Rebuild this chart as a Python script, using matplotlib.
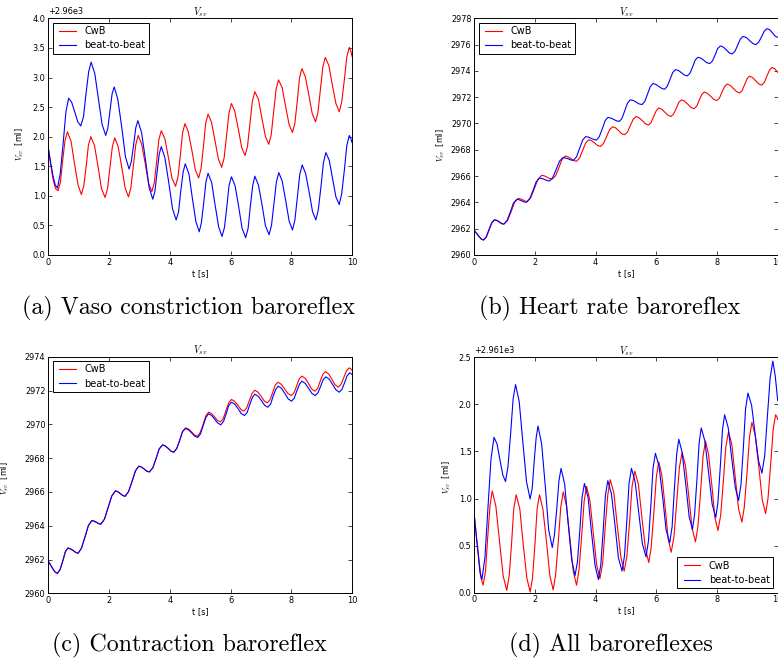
import matplotlib
matplotlib.use("Agg")
import matplotlib.pyplot as plt
from matplotlib.ticker import MultipleLocator, ScalarFormatter

plt.rcParams["font.family"] = "DejaVu Sans"
plt.rcParams["mathtext.fontset"] = "cm"

# V_sv over time, (t [s], value) pairs.
# (a) and (d) are stored relative to their axis offset (2960 and 2961 ml).
vaso_cwb = [
    (0.00, 1.81), (0.08, 1.52), (0.16, 1.27), (0.24, 1.12),
    (0.32, 1.085), (0.40, 1.23), (0.47, 1.58), (0.55, 1.93),
    (0.63, 2.08), (0.75, 1.92), (0.86, 1.55), (0.98, 1.18),
    (1.09, 1.02), (1.17, 1.17), (1.25, 1.51), (1.32, 1.85),
    (1.40, 2.00), (1.52, 1.85), (1.64, 1.49), (1.75, 1.12),
    (1.87, 0.97), (1.95, 1.12), (2.03, 1.48), (2.11, 1.83),
    (2.19, 1.98), (2.30, 1.83), (2.42, 1.48), (2.53, 1.13),
    (2.64, 0.98), (2.72, 1.14), (2.80, 1.50), (2.88, 1.86),
    (2.96, 2.02), (3.07, 1.88), (3.19, 1.55), (3.30, 1.21),
    (3.41, 1.07), (3.49, 1.22), (3.57, 1.59), (3.64, 1.95),
    (3.72, 2.10), (3.84, 1.96), (3.96, 1.63), (4.07, 1.30),
    (4.19, 1.16), (4.27, 1.32), (4.35, 1.69), (4.42, 2.06),
    (4.50, 2.22), (4.61, 2.08), (4.73, 1.76), (4.84, 1.44),
    (4.95, 1.30), (5.03, 1.46), (5.11, 1.84), (5.18, 2.22),
    (5.26, 2.38), (5.37, 2.25), (5.49, 1.93), (5.60, 1.62),
    (5.71, 1.48), (5.79, 1.64), (5.87, 2.02), (5.95, 2.40),
    (6.03, 2.56), (6.14, 2.43), (6.26, 2.12), (6.37, 1.81),
    (6.48, 1.68), (6.56, 1.84), (6.64, 2.22), (6.72, 2.60),
    (6.80, 2.76), (6.92, 2.63), (7.03, 2.32), (7.15, 2.00),
    (7.26, 1.87), (7.34, 2.03), (7.42, 2.42), (7.50, 2.80),
    (7.58, 2.96), (7.70, 2.83), (7.81, 2.52), (7.93, 2.20),
    (8.04, 2.07), (8.12, 2.23), (8.20, 2.61), (8.27, 2.99),
    (8.35, 3.15), (8.46, 3.02), (8.58, 2.70), (8.69, 2.39),
    (8.80, 2.25), (8.88, 2.41), (8.96, 2.80), (9.04, 3.18),
    (9.12, 3.34), (9.24, 3.20), (9.35, 2.88), (9.47, 2.56),
    (9.58, 2.42), (9.66, 2.58), (9.75, 2.97), (9.83, 3.35),
    (9.91, 3.51), (9.96, 3.45), (10.00, 3.36),
]
vaso_b2b = [
    (0.00, 1.81), (0.08, 1.55), (0.16, 1.32), (0.23, 1.18),
    (0.30, 1.13), (0.39, 1.36), (0.49, 1.89), (0.58, 2.42),
    (0.67, 2.65), (0.77, 2.58), (0.87, 2.42), (0.97, 2.25),
    (1.07, 2.18), (1.16, 2.34), (1.24, 2.72), (1.33, 3.10),
    (1.41, 3.26), (1.53, 3.07), (1.65, 2.64), (1.77, 2.21),
    (1.89, 2.02), (1.96, 2.14), (2.03, 2.43), (2.10, 2.72),
    (2.17, 2.84), (2.29, 2.63), (2.42, 2.15), (2.54, 1.66),
    (2.66, 1.45), (2.73, 1.57), (2.81, 1.86), (2.88, 2.15),
    (2.95, 2.27), (3.07, 2.07), (3.20, 1.61), (3.32, 1.14),
    (3.44, 0.94), (3.51, 1.07), (3.58, 1.39), (3.65, 1.70),
    (3.72, 1.83), (3.84, 1.64), (3.97, 1.21), (4.09, 0.78),
    (4.21, 0.59), (4.29, 0.73), (4.36, 1.07), (4.44, 1.40),
    (4.51, 1.54), (4.63, 1.37), (4.74, 0.97), (4.86, 0.56),
    (4.97, 0.39), (5.04, 0.54), (5.12, 0.89), (5.19, 1.23),
    (5.26, 1.38), (5.38, 1.22), (5.49, 0.85), (5.61, 0.47),
    (5.72, 0.31), (5.80, 0.46), (5.88, 0.82), (5.95, 1.17),
    (6.03, 1.32), (6.15, 1.17), (6.27, 0.81), (6.38, 0.45),
    (6.50, 0.29), (6.58, 0.45), (6.65, 0.81), (6.73, 1.17),
    (6.80, 1.33), (6.92, 1.18), (7.04, 0.84), (7.15, 0.49),
    (7.27, 0.34), (7.35, 0.50), (7.43, 0.87), (7.51, 1.23),
    (7.59, 1.39), (7.70, 1.25), (7.82, 0.91), (7.93, 0.57),
    (8.04, 0.42), (8.12, 0.59), (8.20, 0.97), (8.28, 1.36),
    (8.36, 1.52), (8.47, 1.38), (8.59, 1.06), (8.70, 0.73),
    (8.81, 0.59), (8.89, 0.76), (8.98, 1.16), (9.06, 1.56),
    (9.14, 1.73), (9.25, 1.60), (9.36, 1.29), (9.47, 0.98),
    (9.58, 0.85), (9.66, 1.03), (9.75, 1.44), (9.83, 1.85),
    (9.91, 2.02), (9.96, 1.97), (10.00, 1.90),
]

hr_cwb = [
    (0.00, 2961.85), (0.08, 2961.62), (0.16, 2961.38), (0.24, 2961.18),
    (0.31, 2961.12), (0.40, 2961.35), (0.49, 2961.90), (0.58, 2962.44),
    (0.67, 2962.67), (0.75, 2962.62), (0.83, 2962.51), (0.90, 2962.39),
    (0.98, 2962.34), (1.10, 2962.63), (1.22, 2963.32), (1.33, 2964.01),
    (1.45, 2964.30), (1.52, 2964.26), (1.60, 2964.18), (1.67, 2964.09),
    (1.74, 2964.05), (1.86, 2964.35), (1.98, 2965.05), (2.10, 2965.75),
    (2.22, 2966.05), (2.31, 2966.01), (2.40, 2965.91), (2.48, 2965.80),
    (2.57, 2965.76), (2.68, 2966.02), (2.79, 2966.64), (2.89, 2967.26),
    (3.00, 2967.52), (3.09, 2967.46), (3.19, 2967.32), (3.28, 2967.18),
    (3.37, 2967.12), (3.47, 2967.37), (3.57, 2967.94), (3.67, 2968.51),
    (3.77, 2968.76), (3.87, 2968.68), (3.97, 2968.51), (4.06, 2968.33),
    (4.16, 2968.25), (4.26, 2968.48), (4.36, 2969.00), (4.46, 2969.53),
    (4.56, 2969.75), (4.66, 2969.66), (4.76, 2969.45), (4.85, 2969.23),
    (4.95, 2969.14), (5.05, 2969.35), (5.14, 2969.84), (5.24, 2970.32),
    (5.33, 2970.53), (5.43, 2970.43), (5.54, 2970.21), (5.64, 2969.98),
    (5.74, 2969.88), (5.83, 2970.08), (5.91, 2970.53), (6.00, 2970.98),
    (6.08, 2971.18), (6.18, 2971.08), (6.28, 2970.86), (6.38, 2970.63),
    (6.48, 2970.53), (6.57, 2970.72), (6.66, 2971.17), (6.74, 2971.61),
    (6.83, 2971.80), (6.93, 2971.70), (7.04, 2971.46), (7.14, 2971.22),
    (7.24, 2971.12), (7.33, 2971.31), (7.41, 2971.76), (7.50, 2972.21),
    (7.58, 2972.40), (7.68, 2972.30), (7.79, 2972.07), (7.89, 2971.84),
    (7.99, 2971.74), (8.08, 2971.93), (8.16, 2972.37), (8.25, 2972.81),
    (8.33, 2973.00), (8.44, 2972.90), (8.54, 2972.66), (8.65, 2972.42),
    (8.75, 2972.32), (8.83, 2972.51), (8.91, 2972.96), (8.99, 2973.41),
    (9.07, 2973.60), (9.17, 2973.50), (9.27, 2973.26), (9.37, 2973.02),
    (9.47, 2972.92), (9.56, 2973.12), (9.64, 2973.59), (9.73, 2974.06),
    (9.81, 2974.26), (9.90, 2974.17), (10.00, 2973.90),
]
hr_b2b = [
    (0.00, 2961.85), (0.08, 2961.62), (0.16, 2961.38), (0.23, 2961.20),
    (0.30, 2961.13), (0.39, 2961.36), (0.48, 2961.90), (0.57, 2962.43),
    (0.66, 2962.66), (0.74, 2962.61), (0.82, 2962.50), (0.89, 2962.38),
    (0.97, 2962.33), (1.08, 2962.61), (1.19, 2963.28), (1.29, 2963.94),
    (1.40, 2964.22), (1.48, 2964.19), (1.56, 2964.11), (1.64, 2964.03),
    (1.72, 2964.00), (1.83, 2964.28), (1.94, 2964.92), (2.04, 2965.56),
    (2.15, 2965.84), (2.23, 2965.81), (2.32, 2965.73), (2.40, 2965.65),
    (2.48, 2965.62), (2.59, 2965.89), (2.70, 2966.51), (2.81, 2967.13),
    (2.92, 2967.40), (3.01, 2967.37), (3.10, 2967.30), (3.18, 2967.22),
    (3.27, 2967.19), (3.37, 2967.46), (3.47, 2968.10), (3.57, 2968.73),
    (3.67, 2969.00), (3.76, 2968.96), (3.85, 2968.87), (3.94, 2968.78),
    (4.03, 2968.74), (4.12, 2969.00), (4.22, 2969.60), (4.31, 2970.20),
    (4.40, 2970.46), (4.50, 2970.41), (4.59, 2970.31), (4.69, 2970.20),
    (4.78, 2970.15), (4.87, 2970.40), (4.96, 2970.98), (5.05, 2971.55),
    (5.14, 2971.80), (5.24, 2971.75), (5.34, 2971.62), (5.43, 2971.49),
    (5.53, 2971.44), (5.62, 2971.68), (5.71, 2972.24), (5.80, 2972.80),
    (5.89, 2973.04), (5.99, 2972.97), (6.08, 2972.82), (6.18, 2972.67),
    (6.27, 2972.60), (6.36, 2972.83), (6.45, 2973.35), (6.54, 2973.88),
    (6.63, 2974.10), (6.73, 2974.03), (6.83, 2973.86), (6.92, 2973.69),
    (7.02, 2973.62), (7.11, 2973.83), (7.20, 2974.33), (7.28, 2974.83),
    (7.37, 2975.04), (7.47, 2974.97), (7.57, 2974.80), (7.66, 2974.63),
    (7.76, 2974.56), (7.85, 2974.76), (7.94, 2975.23), (8.02, 2975.70),
    (8.11, 2975.90), (8.21, 2975.81), (8.31, 2975.60), (8.40, 2975.38),
    (8.50, 2975.29), (8.59, 2975.49), (8.68, 2975.96), (8.77, 2976.43),
    (8.86, 2976.63), (8.97, 2976.54), (9.07, 2976.32), (9.18, 2976.09),
    (9.28, 2976.00), (9.37, 2976.18), (9.47, 2976.61), (9.56, 2977.04),
    (9.65, 2977.22), (9.74, 2977.13), (9.83, 2976.89), (9.91, 2976.66),
    (10.00, 2976.56),
]

contr_cwb = [
    (0.00, 2961.90), (0.08, 2961.66), (0.16, 2961.42), (0.23, 2961.25),
    (0.30, 2961.18), (0.39, 2961.41), (0.48, 2961.93), (0.56, 2962.46),
    (0.65, 2962.68), (0.73, 2962.63), (0.82, 2962.53), (0.90, 2962.42),
    (0.98, 2962.37), (1.09, 2962.66), (1.21, 2963.34), (1.32, 2964.01),
    (1.43, 2964.30), (1.51, 2964.27), (1.58, 2964.20), (1.66, 2964.12),
    (1.73, 2964.09), (1.85, 2964.39), (1.97, 2965.08), (2.09, 2965.76),
    (2.21, 2966.06), (2.29, 2966.01), (2.37, 2965.90), (2.45, 2965.79),
    (2.53, 2965.74), (2.64, 2966.01), (2.76, 2966.63), (2.87, 2967.25),
    (2.98, 2967.52), (3.07, 2967.47), (3.16, 2967.35), (3.24, 2967.23),
    (3.33, 2967.18), (3.44, 2967.42), (3.55, 2967.98), (3.65, 2968.54),
    (3.76, 2968.78), (3.85, 2968.72), (3.95, 2968.57), (4.04, 2968.41),
    (4.13, 2968.35), (4.23, 2968.57), (4.33, 2969.07), (4.42, 2969.57),
    (4.52, 2969.79), (4.62, 2969.72), (4.72, 2969.55), (4.81, 2969.37),
    (4.91, 2969.30), (5.00, 2969.51), (5.10, 2970.01), (5.19, 2970.51),
    (5.28, 2970.72), (5.38, 2970.63), (5.48, 2970.43), (5.57, 2970.23),
    (5.67, 2970.14), (5.76, 2970.34), (5.85, 2970.81), (5.94, 2971.27),
    (6.03, 2971.47), (6.13, 2971.37), (6.24, 2971.13), (6.34, 2970.88),
    (6.44, 2970.78), (6.53, 2970.97), (6.62, 2971.40), (6.71, 2971.83),
    (6.80, 2972.02), (6.90, 2971.91), (7.01, 2971.65), (7.11, 2971.38),
    (7.21, 2971.27), (7.30, 2971.45), (7.39, 2971.88), (7.47, 2972.31),
    (7.56, 2972.49), (7.67, 2972.37), (7.78, 2972.10), (7.89, 2971.82),
    (8.00, 2971.70), (8.09, 2971.87), (8.18, 2972.28), (8.26, 2972.68),
    (8.35, 2972.85), (8.46, 2972.72), (8.57, 2972.41), (8.67, 2972.09),
    (8.78, 2971.96), (8.87, 2972.13), (8.95, 2972.54), (9.04, 2972.95),
    (9.12, 2973.12), (9.23, 2972.98), (9.34, 2972.66), (9.44, 2972.34),
    (9.55, 2972.20), (9.64, 2972.37), (9.73, 2972.77), (9.82, 2973.17),
    (9.91, 2973.34), (9.96, 2973.28), (10.00, 2973.20),
]
contr_b2b = [
    (0.00, 2961.90), (0.08, 2961.66), (0.16, 2961.42), (0.23, 2961.25),
    (0.30, 2961.18), (0.39, 2961.41), (0.48, 2961.93), (0.56, 2962.46),
    (0.65, 2962.68), (0.73, 2962.63), (0.82, 2962.53), (0.90, 2962.42),
    (0.98, 2962.37), (1.09, 2962.66), (1.21, 2963.34), (1.32, 2964.01),
    (1.43, 2964.30), (1.51, 2964.27), (1.58, 2964.20), (1.66, 2964.12),
    (1.73, 2964.09), (1.85, 2964.39), (1.97, 2965.08), (2.09, 2965.76),
    (2.21, 2966.06), (2.29, 2966.01), (2.37, 2965.90), (2.45, 2965.79),
    (2.53, 2965.74), (2.64, 2966.01), (2.76, 2966.63), (2.87, 2967.25),
    (2.98, 2967.52), (3.07, 2967.47), (3.16, 2967.35), (3.24, 2967.23),
    (3.33, 2967.18), (3.44, 2967.42), (3.55, 2967.98), (3.65, 2968.54),
    (3.76, 2968.78), (3.85, 2968.72), (3.95, 2968.57), (4.04, 2968.41),
    (4.13, 2968.35), (4.23, 2968.57), (4.33, 2969.07), (4.42, 2969.57),
    (4.52, 2969.75), (4.62, 2969.67), (4.72, 2969.49), (4.82, 2969.30),
    (4.92, 2969.22), (5.01, 2969.43), (5.10, 2969.92), (5.19, 2970.41),
    (5.28, 2970.62), (5.38, 2970.52), (5.48, 2970.30), (5.58, 2970.07),
    (5.68, 2969.97), (5.77, 2970.17), (5.86, 2970.64), (5.94, 2971.11),
    (6.03, 2971.31), (6.14, 2971.19), (6.25, 2970.92), (6.35, 2970.64),
    (6.46, 2970.52), (6.55, 2970.71), (6.63, 2971.15), (6.72, 2971.59),
    (6.80, 2971.78), (6.91, 2971.66), (7.02, 2971.40), (7.12, 2971.13),
    (7.23, 2971.01), (7.32, 2971.20), (7.40, 2971.64), (7.49, 2972.07),
    (7.57, 2972.26), (7.68, 2972.13), (7.79, 2971.82), (7.90, 2971.50),
    (8.01, 2971.37), (8.10, 2971.55), (8.18, 2971.96), (8.27, 2972.37),
    (8.35, 2972.55), (8.46, 2972.42), (8.57, 2972.13), (8.68, 2971.83),
    (8.79, 2971.70), (8.88, 2971.87), (8.97, 2972.26), (9.05, 2972.64),
    (9.14, 2972.81), (9.25, 2972.67), (9.36, 2972.36), (9.47, 2972.04),
    (9.58, 2971.90), (9.67, 2972.07), (9.76, 2972.48), (9.84, 2972.88),
    (9.93, 2973.05), (10.00, 2972.95),
]

all_cwb = [
    (0.00, 0.82), (0.07, 0.60), (0.15, 0.36), (0.22, 0.16),
    (0.29, 0.08), (0.37, 0.23), (0.44, 0.58), (0.52, 0.93),
    (0.59, 1.08), (0.71, 0.92), (0.83, 0.55), (0.95, 0.18),
    (1.07, 0.025), (1.15, 0.18), (1.23, 0.53), (1.30, 0.89),
    (1.38, 1.04), (1.50, 0.89), (1.61, 0.52), (1.73, 0.16),
    (1.84, 0.007), (1.92, 0.16), (2.00, 0.52), (2.07, 0.89),
    (2.15, 1.04), (2.26, 0.89), (2.38, 0.54), (2.49, 0.18),
    (2.60, 0.03), (2.68, 0.19), (2.77, 0.55), (2.85, 0.91),
    (2.93, 1.07), (3.04, 0.92), (3.15, 0.58), (3.26, 0.23),
    (3.37, 0.08), (3.45, 0.24), (3.54, 0.61), (3.62, 0.97),
    (3.70, 1.13), (3.81, 0.98), (3.92, 0.64), (4.03, 0.30),
    (4.14, 0.15), (4.23, 0.31), (4.31, 0.68), (4.40, 1.04),
    (4.48, 1.20), (4.60, 1.06), (4.71, 0.72), (4.83, 0.38),
    (4.94, 0.23), (5.03, 0.39), (5.12, 0.76), (5.20, 1.13),
    (5.29, 1.29), (5.41, 1.15), (5.52, 0.81), (5.64, 0.47),
    (5.75, 0.32), (5.83, 0.48), (5.92, 0.86), (6.00, 1.23),
    (6.08, 1.39), (6.18, 1.25), (6.29, 0.91), (6.39, 0.57),
    (6.49, 0.43), (6.58, 0.59), (6.67, 0.96), (6.76, 1.33),
    (6.85, 1.49), (6.96, 1.35), (7.07, 1.02), (7.18, 0.68),
    (7.29, 0.54), (7.37, 0.70), (7.46, 1.08), (7.54, 1.45),
    (7.62, 1.61), (7.72, 1.47), (7.83, 1.14), (7.93, 0.80),
    (8.03, 0.66), (8.12, 0.82), (8.21, 1.19), (8.29, 1.55),
    (8.38, 1.71), (8.49, 1.57), (8.60, 1.23), (8.71, 0.89),
    (8.82, 0.75), (8.90, 0.91), (8.99, 1.28), (9.07, 1.65),
    (9.15, 1.81), (9.26, 1.67), (9.38, 1.33), (9.49, 0.99),
    (9.60, 0.84), (9.68, 1.00), (9.77, 1.37), (9.85, 1.73),
    (9.93, 1.89), (9.97, 1.87), (10.00, 1.84),
]
all_b2b = [
    (0.00, 0.82), (0.06, 0.62), (0.13, 0.40), (0.19, 0.21),
    (0.25, 0.14), (0.35, 0.37), (0.45, 0.90), (0.55, 1.42),
    (0.65, 1.65), (0.75, 1.58), (0.84, 1.42), (0.94, 1.25),
    (1.03, 1.18), (1.11, 1.34), (1.20, 1.70), (1.28, 2.06),
    (1.36, 2.21), (1.48, 2.03), (1.60, 1.60), (1.72, 1.18),
    (1.84, 0.995), (1.91, 1.11), (1.97, 1.38), (2.04, 1.65),
    (2.10, 1.77), (2.22, 1.58), (2.34, 1.13), (2.45, 0.67),
    (2.57, 0.48), (2.64, 0.61), (2.72, 0.90), (2.79, 1.19),
    (2.86, 1.32), (2.98, 1.15), (3.09, 0.75), (3.21, 0.35),
    (3.32, 0.18), (3.40, 0.33), (3.48, 0.67), (3.55, 1.01),
    (3.63, 1.16), (3.75, 1.01), (3.86, 0.65), (3.98, 0.29),
    (4.09, 0.14), (4.17, 0.30), (4.25, 0.67), (4.32, 1.03),
    (4.40, 1.19), (4.52, 1.05), (4.64, 0.71), (4.75, 0.37),
    (4.87, 0.23), (4.95, 0.39), (5.03, 0.78), (5.10, 1.16),
    (5.18, 1.32), (5.30, 1.18), (5.42, 0.85), (5.54, 0.52),
    (5.66, 0.38), (5.74, 0.55), (5.82, 0.93), (5.89, 1.32),
    (5.97, 1.48), (6.09, 1.34), (6.21, 1.01), (6.32, 0.67),
    (6.44, 0.53), (6.52, 0.70), (6.59, 1.08), (6.67, 1.47),
    (6.74, 1.63), (6.85, 1.49), (6.97, 1.15), (7.08, 0.81),
    (7.19, 0.67), (7.26, 0.83), (7.34, 1.21), (7.41, 1.59),
    (7.48, 1.75), (7.60, 1.61), (7.72, 1.28), (7.84, 0.94),
    (7.96, 0.80), (8.03, 0.96), (8.11, 1.35), (8.18, 1.73),
    (8.25, 1.89), (8.37, 1.75), (8.48, 1.44), (8.60, 1.12),
    (8.71, 0.98), (8.79, 1.15), (8.87, 1.55), (8.94, 1.95),
    (9.02, 2.12), (9.14, 1.99), (9.25, 1.70), (9.37, 1.40),
    (9.48, 1.27), (9.57, 1.45), (9.66, 1.87), (9.75, 2.28),
    (9.84, 2.46), (9.92, 2.30), (10.00, 2.04),
]

series_labels = ["CwB", "beat-to-beat"]
captions = [
    "(a) Vaso constriction baroreflex",
    "(b) Heart rate baroreflex",
    "(c) Contraction baroreflex",
    "(d) All baroreflexes",
]
time_ticks = [0, 2, 4, 6, 8, 10]

W, H = 778.0, 662.0
fig = plt.figure(figsize=(W / 100, H / 100), dpi=100)


def px_box(left, top, right, bottom):
    return [left / W, 1 - bottom / H, (right - left) / W, (bottom - top) / H]


def draw_panel(box, cwb, b2b, base, ylim, ystep, offset, legend_loc, ylab_xy):
    ax = fig.add_axes(px_box(*box))
    for data, color, label in [(cwb, "red", series_labels[0]),
                               (b2b, "blue", series_labels[1])]:
        t, v = zip(*data)
        ax.plot(t, [base + x for x in v], color=color, lw=0.8, label=label)

    ax.set_xlim(0, 10)
    ax.set_ylim(*ylim)
    ax.set_xticks(time_ticks)
    ax.yaxis.set_major_locator(MultipleLocator(ystep))
    ax.yaxis.set_major_formatter(ScalarFormatter(useOffset=offset))
    ax.yaxis.get_offset_text().set_fontsize(5.9)

    ax.tick_params(direction="in", top=True, right=True, length=2.6,
                   width=0.5, labelsize=5.9, pad=2)
    for sp in ax.spines.values():
        sp.set_linewidth(0.7)

    ax.set_title("$V_{sv}$", fontsize=7.2, pad=2.5)
    ax.set_xlabel("t [s]", fontsize=5.9, labelpad=1.5)
    ax.set_ylabel("$V_{sv}$  [ml]", fontsize=5.9)
    ax.yaxis.set_label_coords(*ylab_xy)

    leg = ax.legend(loc=legend_loc, fontsize=7, numpoints=2, fancybox=False,
                    framealpha=1, edgecolor="black", borderpad=0.35,
                    labelspacing=0.42, handlelength=2.3, handletextpad=0.6,
                    borderaxespad=0.45)
    leg.get_frame().set_linewidth(0.7)
    return ax


draw_panel((48.3, 18.4, 352.0, 254.8), vaso_cwb, vaso_b2b, 2960.0,
           (2960.0, 2964.0), 0.5, 2960.0, "upper left", (-0.075, 0.47))
draw_panel((474.3, 18.4, 777.7, 254.8), hr_cwb, hr_b2b, 0.0,
           (2960, 2978), 2, False, "upper left", (-0.09, 0.465))
draw_panel((48.3, 356.7, 352.0, 593.3), contr_cwb, contr_b2b, 0.0,
           (2960, 2974), 2, False, "upper left", (-0.122, 0.485))
draw_panel((474.3, 357.3, 777.7, 592.7), all_cwb, all_b2b, 2961.0,
           (2961.0, 2963.5), 0.5, 2961.0, "lower right", (-0.069, 0.49))

# subfigure captions
for text, (cx, cy) in zip(captions, [(189, 308), (610, 308), (189, 645), (611, 645)]):
    fig.text(cx / W, 1 - cy / H, text, ha="center", va="center",
             fontfamily="cmr10", fontsize=17.3)

fig.savefig("out.png", dpi=100)
